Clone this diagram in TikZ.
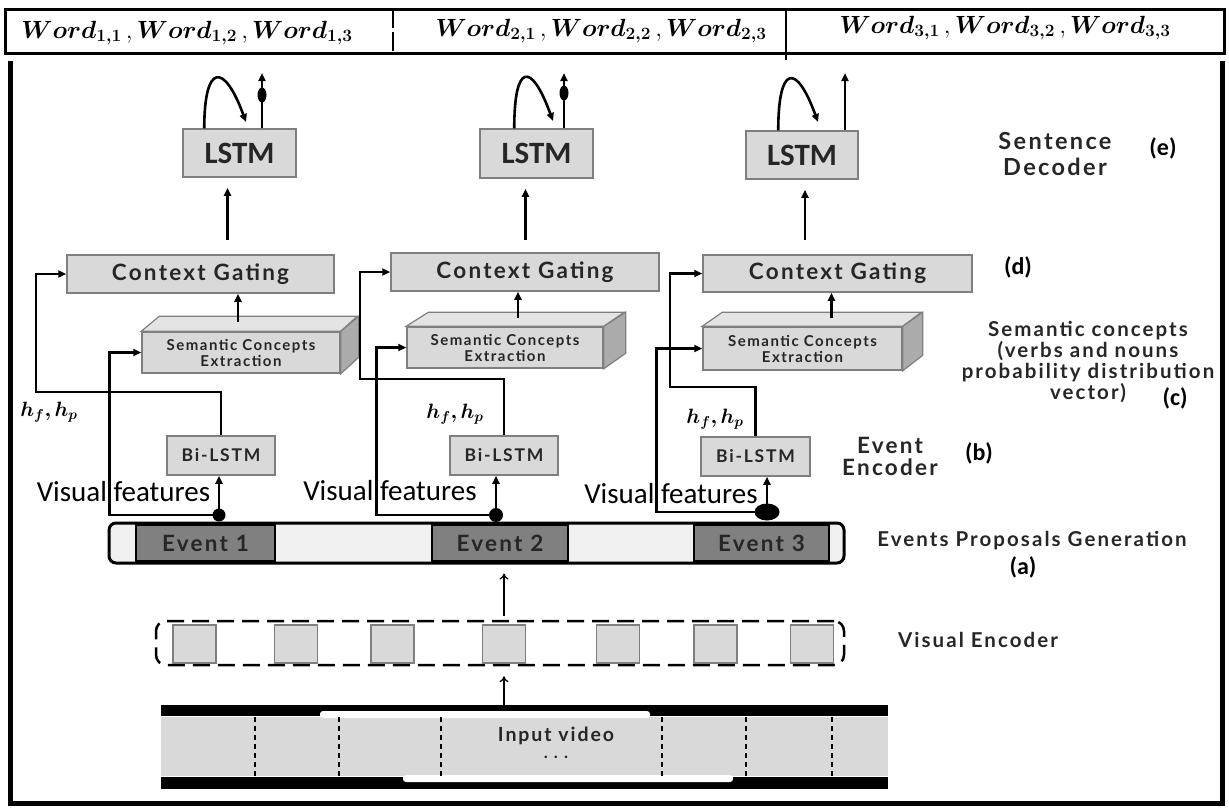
\documentclass[tikz,border=0pt]{standalone}
\usepackage{amsmath,amssymb,bm}
\usepackage{fontspec}
\setmainfont{Carlito}
\newfontfamily\gillfont[LetterSpace=10]{Lato}
\usetikzlibrary{arrows.meta}

\definecolor{boxgray}{HTML}{D9D9D9}
\definecolor{boxline}{HTML}{7F7F7F}
\definecolor{evdark}{HTML}{808080}
\definecolor{evlight}{HTML}{F0F0F0}
\definecolor{sidegray}{HTML}{ABABAB}
\definecolor{topgray}{HTML}{E4E4E4}
\definecolor{labtext}{HTML}{262626}

\tikzset{
  box/.style={draw=boxline, fill=boxgray, line width=1.5pt, inner sep=0pt, text=labtext},
  flow/.style={line width=2.6pt, -{Triangle[length=8pt,width=7pt]}},
  thinflow/.style={line width=1.3pt, -{To[length=6pt,width=9pt]}},
  sidelab/.style={align=center, text=labtext, font=\gillfont\bfseries\fontsize{20.5}{21}\selectfont},
  tag/.style={font=\bfseries\fontsize{24}{26}\selectfont},
  vislab/.style={font=\fontsize{29}{30}\selectfont},
  hlab/.style={font=\fontsize{22}{23}\selectfont},
  framebox/.style={draw=boxline, fill=boxgray, line width=1.3pt, minimum width=43pt, minimum height=38pt, inner sep=0pt},
  sep/.style={dash pattern=on 5pt off 4pt, line width=1.5pt}
}

\begin{document}
\begin{tikzpicture}[x=1pt,y=-1pt]
\useasboundingbox (0,0) rectangle (1229,807);

% output words
\draw[line width=3pt] (5,9) rectangle (1224,53);
\draw[line width=2pt, dash pattern=on 19pt off 4pt] (393,9) -- (393,53);
\draw[line width=2pt] (786,9) -- (786,60);
\node[font=\fontsize{23.5}{25}\selectfont] (w1) at (187,33) {$\bm{Word_{1,1}}\,,\bm{Word_{1,2}}\,,\bm{Word_{1,3}}$};
\node[font=\fontsize{23.5}{25}\selectfont] (w2) at (601,31) {$\bm{Word_{2,1}}\,,\bm{Word_{2,2}}\,,\bm{Word_{2,3}}$};
\node[font=\fontsize{23.5}{25}\selectfont] (w3) at (1005,28) {$\bm{Word_{3,1}}\,,\bm{Word_{3,2}}\,,\bm{Word_{3,3}}$};

% frame
\draw[line width=5pt] (10,61) -- (10,803) -- (1222,803) -- (1222,61);

% sentence decoder
\node[box, minimum width=113pt, minimum height=48pt, font=\bfseries\fontsize{31}{32}\selectfont] (lstm1) at (239.5,153) {LSTM};
\node[box, minimum width=113pt, minimum height=49pt, font=\bfseries\fontsize{31}{32}\selectfont] (lstm2) at (536.5,153.5) {LSTM};
\node[box, minimum width=112pt, minimum height=48pt, font=\bfseries\fontsize{31}{32}\selectfont] (lstm3) at (802,155) {LSTM};
\coordinate (tip1) at (246,122);
\coordinate (tip2) at (553,121);
\coordinate (tip3) at (818,122);
\coordinate (out1) at (262,73);
\coordinate (out2) at (564,73);
\coordinate (out3) at (845,73);
\draw[flow] ([xshift=22pt]lstm1.north west) .. controls +(0,-65) and +(-22,-60) .. (tip1);
\draw[flow] ([xshift=35pt]lstm2.north west) .. controls +(0,-65) and +(-22,-60) .. (tip2);
\draw[flow] ([xshift=33pt]lstm3.north west) .. controls +(0,-65) and +(-22,-60) .. (tip3);
\draw[flow] (out1 |- lstm1.north) -- (out1);
\draw[flow] (out2 |- lstm2.north) -- (out2);
\draw[flow] (out3 |- lstm3.north) -- (out3);
\fill (262,95) ellipse [x radius=4.5, y radius=7.5];
\fill (564,93) ellipse [x radius=4.5, y radius=7.5];

% context gating
\node[box, minimum width=267pt, minimum height=38pt, font=\gillfont\bfseries\fontsize{22.5}{24}\selectfont] (cg1) at (200.5,274) {Context Gating};
\node[box, minimum width=268pt, minimum height=38pt, font=\gillfont\bfseries\fontsize{22.5}{24}\selectfont] (cg2) at (525,272) {Context Gating};
\node[box, minimum width=269pt, minimum height=37pt, font=\gillfont\bfseries\fontsize{22.5}{24}\selectfont] (cg3) at (837.5,273.5) {Context Gating};
\draw[flow] ([xshift=-12pt]lstm1.south |- 0,240) -- ([xshift=-12pt,yshift=-10pt]lstm1.south);
\draw[flow] ([xshift=-11pt]lstm2.south |- 0,240) -- ([xshift=-11pt,yshift=-10pt]lstm2.south);
\draw[flow] ([xshift=3pt]lstm3.south |- 0,240) -- ([xshift=3pt,yshift=-10pt]lstm3.south);

% semantic concepts extraction
\node[box, minimum width=198pt, minimum height=41pt, align=center, font=\gillfont\bfseries\fontsize{15}{16}\selectfont] (sce1) at (241,352.5) {Semantic Concepts\\Extraction};
\node[box, minimum width=196pt, minimum height=41pt, align=center, font=\gillfont\bfseries\fontsize{15}{16}\selectfont] (sce2) at (505,347.5) {Semantic Concepts\\Extraction};
\node[box, minimum width=199pt, minimum height=43pt, align=center, font=\gillfont\bfseries\fontsize{15}{16}\selectfont] (sce3) at (802.5,348.5) {Semantic Concepts\\Extraction};
\filldraw[draw=boxline, fill=topgray, line width=1.2pt] (sce1.north west) -- ++(18,-15) -- ++(198,0) -- (sce1.north east) -- cycle;
\filldraw[draw=boxline, fill=sidegray, line width=1.2pt] (sce1.north east) -- ++(18,-15) -- ++(0,41) -- (sce1.south east) -- cycle;
\filldraw[draw=boxline, fill=topgray, line width=1.2pt] (sce2.north west) -- ++(22,-14) -- ++(196,0) -- (sce2.north east) -- cycle;
\filldraw[draw=boxline, fill=sidegray, line width=1.2pt] (sce2.north east) -- ++(22,-14) -- ++(0,41) -- (sce2.south east) -- cycle;
\filldraw[draw=boxline, fill=topgray, line width=1.2pt] (sce3.north west) -- ++(20,-14) -- ++(199,0) -- (sce3.north east) -- cycle;
\filldraw[draw=boxline, fill=sidegray, line width=1.2pt] (sce3.north east) -- ++(20,-14) -- ++(0,43) -- (sce3.south east) -- cycle;
\draw[flow] ([xshift=-3pt,yshift=9pt]sce1.north) -- ([xshift=-3pt]sce1.north |- cg1.south);
\draw[flow] ([xshift=13pt,yshift=8pt]sce2.north) -- ([xshift=13pt]sce2.north |- cg2.south);
\draw[flow] ([xshift=29pt,yshift=8pt]sce3.north) -- ([xshift=29pt]sce3.north |- cg3.south);

% event encoder
\node[box, minimum width=108pt, minimum height=39pt, font=\gillfont\bfseries\fontsize{17.5}{18}\selectfont] (bil1) at (221,455.5) {Bi-LSTM};
\node[box, minimum width=108pt, minimum height=39pt, font=\gillfont\bfseries\fontsize{17.5}{18}\selectfont] (bil2) at (504,455.5) {Bi-LSTM};
\node[box, minimum width=109pt, minimum height=39pt, font=\gillfont\bfseries\fontsize{17.5}{18}\selectfont] (bil3) at (755.5,456.5) {Bi-LSTM};
\coordinate (h1) at (36,392);
\coordinate (h2) at (360,379);
\coordinate (h3) at (670,387);
\draw[flow] (bil1.north) |- (h1) |- (cg1.west);
\draw[flow] (bil2.north) |- (h2) |- (cg2.west);
\draw[flow] (bil3.north) |- (h3) |- (cg3.west);
\node[hlab] (hf1) at (49,412) {$\bm{h_f,h_p}$};
\node[hlab] (hf2) at (455,414) {$\bm{h_f,h_p}$};
\node[hlab] (hf3) at (715,419) {$\bm{h_f,h_p}$};

% events proposals
\node[draw, line width=3pt, rounded corners=7pt, fill=evlight, minimum width=735pt, minimum height=40pt] (evbar) at (476.5,543) {};
\node[draw, line width=1.5pt, fill=evdark, minimum width=139pt, minimum height=36pt, font=\gillfont\bfseries\fontsize{22.5}{24}\selectfont, text=black!85] (ev1) at (205.5,543) {Event 1};
\node[draw, line width=1.5pt, fill=evdark, minimum width=136pt, minimum height=36pt, font=\gillfont\bfseries\fontsize{22.5}{24}\selectfont, text=black!85] (ev2) at (500,543) {Event 2};
\node[draw, line width=1.5pt, fill=evdark, minimum width=135pt, minimum height=36pt, font=\gillfont\bfseries\fontsize{22.5}{24}\selectfont, text=black!85] (ev3) at (761.5,543) {Event 3};
\coordinate (j1) at (219,515);
\coordinate (j2) at (496,515);
\coordinate (j3) at (767,512);
\draw[flow] (j1) -- (j1 |- bil1.south);
\draw[flow] (j2) -- (j2 |- bil2.south);
\draw[flow] (j3) -- (j3 |- bil3.south);
\draw[flow] (j1) -| ([xshift=-32pt]sce1.west) -- (sce1.west);
\draw[flow] (j2) -| ([xshift=-30pt]sce2.west) -- (sce2.west);
\draw[flow] (j3) -| ([xshift=-46pt]sce3.west) -- (sce3.west);
\fill (j1) circle (6.5);
\fill (j2) circle (7);
\fill (j3) ellipse [x radius=12.5, y radius=8.5];
\node[vislab] (vf1) at (123.5,492) {Visual features};
\node[vislab] (vf2) at (390,491) {Visual features};
\node[vislab] (vf3) at (671,494) {Visual features};

% visual encoder
\node[draw, line width=2.5pt, dash pattern=on 17pt off 8pt, rounded corners=10pt, minimum width=688pt, minimum height=44pt] (venc) at (500,643) {};
\node[framebox] (f1) at (194.5,644) {};
\node[framebox] (f2) at (296,644) {};
\node[framebox] (f3) at (392.5,644) {};
\node[framebox] (f4) at (504,644) {};
\node[framebox] (f5) at (618,644) {};
\node[framebox] (f6) at (715.5,644) {};
\node[framebox] (f7) at (812,644) {};
\draw[thinflow] ([yshift=4pt]venc.north -| f4.north) -- ([yshift=-9pt]evbar.south -| f4.north);

% input video
\node[fill=boxgray, minimum width=727pt, minimum height=59pt, inner sep=0pt] (video) at (524.5,746.5) {};
\fill (161,705) rectangle (888,716);
\fill[white, rounded corners=3pt] (320,711) rectangle (650,718);
\fill (161,777) rectangle (888,789);
\fill[white, rounded corners=3pt] (403,775) rectangle (733,782);
\draw[sep] (255,717) -- (255,776);
\draw[sep] (339,717) -- (339,776);
\draw[sep] (441,717) -- (441,776);
\draw[sep] (662,717) -- (662,776);
\draw[sep] (746,717) -- (746,776);
\draw[sep] (832,717) -- (832,776);
\node[inner sep=1pt, font=\gillfont\bfseries\fontsize{19.5}{20}\selectfont, text=labtext] (vidtxt) at (556,736) {Input video};
\node[inner sep=1pt, font=\bfseries\fontsize{17}{19}\selectfont, text=labtext] (viddots) at (556,757) {.\,\,.\,\,.};
\draw[thinflow] ([yshift=12pt]video.north -| f4.north) -- ([yshift=-10pt]venc.south -| f4.north);

% side labels
\node[sidelab, font=\gillfont\bfseries\fontsize{23.5}{26}\selectfont] (sdec) at (1055,154) {Sentence\\Decoder};
\node[tag] (labe) at (1163,148) {(e)};
\node[tag] (labd) at (1018,267) {(d)};
\node[sidelab] (semc) at (1088,362) {Semantic concepts\\(verbs and nouns\\probability distribution\\vector)};
\node[tag] (labc) at (1175,398) {(c)};
\node[sidelab, font=\gillfont\bfseries\fontsize{22.5}{22}\selectfont] (evenc) at (890,456) {Event\\Encoder};
\node[tag] (labb) at (979,453) {(b)};
\node[sidelab] (epg) at (1032,541) {Events Proposals Generation};
\node[tag] (laba) at (1023,567) {(a)};
\node[sidelab] (vlab) at (978,640) {Visual Encoder};
\end{tikzpicture}
\end{document}
